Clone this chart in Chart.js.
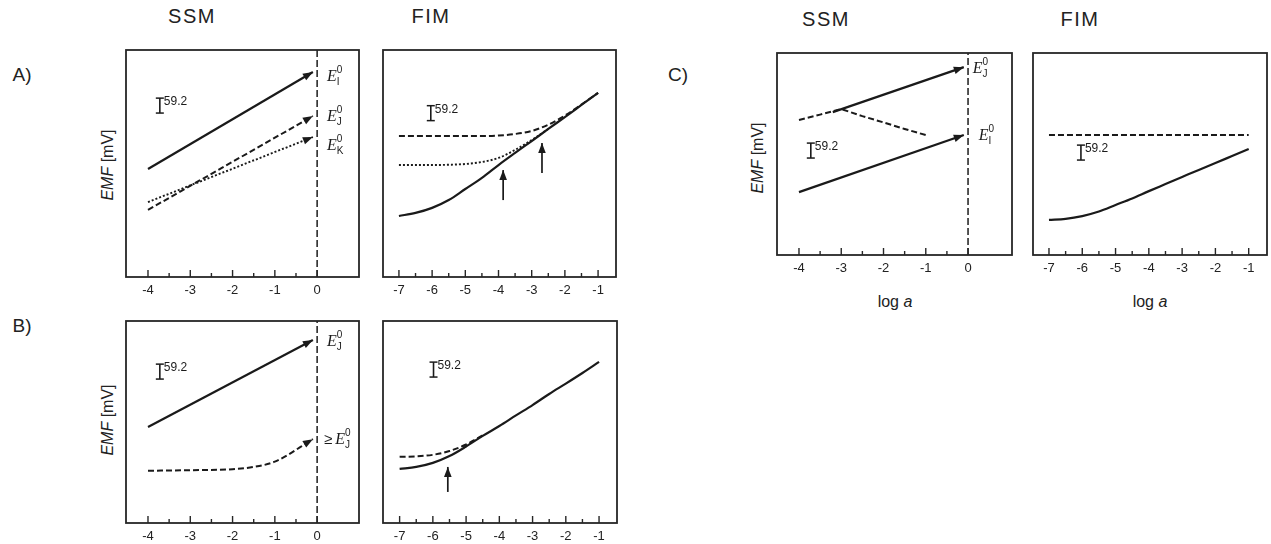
<!DOCTYPE html>
<html>
<head>
<meta charset="utf-8">
<title>EMF response of SSM and FIM</title>
<script src="https://cdn.jsdelivr.net/npm/chart.js@4.4.1/dist/chart.umd.min.js"></script>
<style>
  body { margin: 0; background: #fff; width: 1271px; height: 544px; position: relative; overflow: hidden;
         font-family: 'Liberation Sans', Arial, sans-serif; color: #222; }
  canvas { position: absolute; }
  .t { position: absolute; white-space: nowrap; transform: translate(-50%, -50%); }
  .title { font-size: 20px; letter-spacing: 1.5px; }
  .tag { font-size: 19px; }
  .ylab { font-size: 16px; transform: translate(-50%, -50%) rotate(-90deg); }
  .xlab { font-size: 16px; }
</style>
</head>
<body>
<div class="t title" style="left:192px;top:16px">SSM</div>
<div class="t title" style="left:431px;top:16px">FIM</div>
<div class="t title" style="left:826px;top:19px">SSM</div>
<div class="t title" style="left:1080px;top:19px">FIM</div>

<div class="t tag" style="left:22px;top:75px">A)</div>
<div class="t tag" style="left:22px;top:326px">B)</div>
<div class="t tag" style="left:678px;top:75px">C)</div>

<div class="t ylab" style="left:108px;top:165px"><i>EMF</i> [mV]</div>
<div class="t ylab" style="left:108px;top:420px"><i>EMF</i> [mV]</div>
<div class="t ylab" style="left:758px;top:158px"><i>EMF</i> [mV]</div>

<div class="t xlab" style="left:895px;top:302px">log <i>a</i></div>
<div class="t xlab" style="left:1150px;top:302px">log <i>a</i></div>

<script>
/* ===== EMF vs. log a, SSM / FIM panels ===== */

// tick labels
const ssmTicks = [-4, -3, -2, -1, 0];
const fimTicks = [-7, -6, -5, -4, -3, -2, -1];

// common log a grid for the FIM curves
const fimLogA = [-7, -6.5, -6, -5.5, -5, -4.5, -4, -3.5, -3, -2.5, -2, -1.5, -1];

// Nernstian scale bar, mV
const scaleBar = 59.2;

// A) SSM  (EMF in mV)
const aSsmLogA = [-4, -0.1];
const aSsmEI = [428, 813];
const aSsmEJ = [266, 638];
const aSsmEK = [297, 555];

// A) FIM
const aFimSolid = [242, 254, 274, 305, 349, 393, 444, 492, 539, 587, 634, 682, 730];
const aFimUpper = [559, 559, 559, 559, 559, 559, 561, 567, 579, 604, 640, 684, 730];
const aFimLower = [444, 444, 444, 445, 448, 456, 472, 504, 543, 587, null, null, null];
const aFimArrowX = [-3.86, -2.69];
const aFimArrowFrom = [305, 412];
const aFimArrowTo = [424, 531];

// B) SSM
const bSsmLogA = [-4, -0.1];
const bSsmEJ = [380, 725];
const bSsmBoundLogA = [-4, -3, -2, -1.5, -1, -0.1];
const bSsmBound = [207, 209, 213, 222, 243, 332];

// B) FIM
const bFimSolid = [214, 222, 238, 265, 303, 345, 384, 426, 467, 511, 552, 594, 638];
const bFimDashed = [262, 264, 270, 285, 311, 347, null, null, null, null, null, null, null];
const bFimArrowX = [-5.55];
const bFimArrowFrom = [123];
const bFimArrowTo = [222];

// C) SSM
const cSsmEJLogA = [-3.2, -0.1];
const cSsmEJ = [566, 744];
const cSsmDashLogA = [-4, -3.5, -3, -2.5, -2, -1.5, -1];
const cSsmDash = [535, 556, 578, 550, 525, 499, 475];
const cSsmEILogA = [-4, -0.1];
const cSsmEI = [249, 475];

// C) FIM
const cFimSolid = [139, 143, 154, 172, 198, 224, 253, 281, 309, 337, 364, 392, 420];
const cFimFlat = [475, 475, 475, 475, 475, 475, 475, 475, 475, 475, 475, 475, 475];

const ink = '#1a1a1a';
const frameColor = '#262626';

function pts(xs, ys) {
  const out = [];
  xs.forEach((x, i) => { if (ys[i] !== null) out.push({ x: x, y: ys[i] }); });
  return out;
}

function solid(xs, ys, extra) {
  return Object.assign({ data: pts(xs, ys), borderColor: ink, borderWidth: 2.2, pointRadius: 0, fill: false }, extra);
}
function dashed(xs, ys, extra) {
  return solid(xs, ys, Object.assign({ borderDash: [6, 3], borderWidth: 2 }, extra));
}
function dotted(xs, ys, extra) {
  return solid(xs, ys, Object.assign({ borderDash: [2, 2], borderWidth: 1.9 }, extra));
}
function zeroLine(yMax) {
  return { data: [{ x: 0, y: 0 }, { x: 0, y: yMax }], borderColor: '#2a2a2a', borderWidth: 1.6,
           borderDash: [7, 3], pointRadius: 0 };
}
function upArrow(x, y0, y1) {
  return { data: [{ x: x, y: y0 }, { x: x, y: y1 }], borderColor: ink, borderWidth: 1.7,
           pointRadius: 0, arrowHead: true };
}
function bar(x, y0) {
  return { data: [{ x: x, y: y0 }, { x: x, y: y0 + scaleBar }], borderColor: ink, borderWidth: 1.6,
           pointStyle: 'line', pointRadius: 4, pointBorderWidth: 1.5, pointBorderColor: ink,
           barLabel: String(scaleBar) };
}

function drawTag(ctx, x, y, tag) {
  let cx = x;
  ctx.fillStyle = ink;
  ctx.textAlign = 'left';
  ctx.textBaseline = 'middle';
  if (tag.pre) {
    ctx.font = '15px "Liberation Sans"';
    ctx.fillText(tag.pre, cx, y);
    cx += ctx.measureText(tag.pre).width + 3;
  }
  ctx.font = 'italic 16px "Liberation Serif"';
  ctx.fillText('E', cx, y);
  cx += ctx.measureText('E').width;
  ctx.font = '10px "Liberation Sans"';
  ctx.fillText(tag.sub, cx, y + 5);
  ctx.fillText('0', cx, y - 7);
}

// frame, inward ticks, arrow heads and the small labels
function decor(ticks) {
  return {
    id: 'decor',
    afterDatasetsDraw(chart) {
      const { ctx, chartArea: a } = chart;
      const x = chart.scales.x;
      ctx.save();
      ctx.setLineDash([]);
      ctx.strokeStyle = frameColor;
      ctx.lineWidth = 1.8;
      ctx.strokeRect(a.left, a.top, a.right - a.left, a.bottom - a.top);

      const tick = (v, len) => {
        const px = x.getPixelForValue(v);
        ctx.beginPath();
        ctx.moveTo(px, a.bottom);
        ctx.lineTo(px, a.bottom - len);
        ctx.stroke();
      };
      ctx.lineWidth = 1.4;
      ticks.forEach((v, i) => {
        tick(v, 7);
        if (i < ticks.length - 1) tick((v + ticks[i + 1]) / 2, 4);
      });

      chart.data.datasets.forEach((ds, i) => {
        const p = chart.getDatasetMeta(i).data;
        if (!p.length) return;
        const end = p[p.length - 1];
        if (ds.arrowHead) {
          const prev = p[p.length - 2];
          const ang = Math.atan2(end.y - prev.y, end.x - prev.x);
          const L = 10, W = 3.8;
          const bx = end.x - L * Math.cos(ang), by = end.y - L * Math.sin(ang);
          ctx.fillStyle = ink;
          ctx.beginPath();
          ctx.moveTo(end.x, end.y);
          ctx.lineTo(bx - W * Math.sin(ang), by + W * Math.cos(ang));
          ctx.lineTo(bx + W * Math.sin(ang), by - W * Math.cos(ang));
          ctx.closePath();
          ctx.fill();
        }
        if (ds.tag) drawTag(ctx, end.x + ds.tag.dx, end.y + ds.tag.dy, ds.tag);
        if (ds.barLabel) {
          ctx.fillStyle = ink;
          ctx.font = '12px "Liberation Sans"';
          ctx.textAlign = 'left';
          ctx.textBaseline = 'middle';
          ctx.fillText(ds.barLabel, end.x + 4, end.y + 4);
        }
      });
      ctx.restore();
    }
  };
}

function panel(box, xRange, ticks, yMax, datasets) {
  const pad = 6, axisH = 26;
  const c = document.createElement('canvas');
  c.width = box.r - box.l + 2 * pad;
  c.height = box.b - box.t + pad + axisH;
  c.style.left = (box.l - pad) + 'px';
  c.style.top = (box.t - pad) + 'px';
  document.body.appendChild(c);

  return new Chart(c, {
    type: 'line',
    data: { datasets: datasets },
    options: {
      responsive: false,
      animation: false,
      devicePixelRatio: 1,
      events: [],
      layout: { padding: { left: pad, right: pad, top: pad, bottom: 0 } },
      plugins: { legend: { display: false }, tooltip: { enabled: false } },
      scales: {
        x: {
          type: 'linear',
          min: xRange[0],
          max: xRange[1],
          afterBuildTicks: s => { s.ticks = ticks.map(v => ({ value: v })); },
          afterFit: s => { s.height = axisH; },
          grid: { display: false, drawTicks: false },
          border: { display: false },
          ticks: {
            autoSkip: false, maxRotation: 0, padding: 6, color: '#222',
            font: { family: 'Liberation Sans', size: 13 },
            callback: v => String(v)
          }
        },
        y: { type: 'linear', display: false, min: 0, max: yMax }
      }
    },
    plugins: [decor(ticks)]
  });
}

// A) SSM
panel({ l: 126, t: 50, r: 359, b: 277 }, [-4.52, 0.99], ssmTicks, 900, [
  zeroLine(900),
  solid(aSsmLogA, aSsmEI, { arrowHead: true, tag: { sub: 'I', dx: 14, dy: 5 } }),
  dashed(aSsmLogA, aSsmEJ, { arrowHead: true, tag: { sub: 'J', dx: 14, dy: 1 } }),
  dotted(aSsmLogA, aSsmEK, { arrowHead: true, tag: { sub: 'K', dx: 14, dy: 9 } }),
  bar(-3.72, 650)
]);

// A) FIM
panel({ l: 383, t: 50, r: 616, b: 277 }, [-7.48, -0.46], fimTicks, 900, [
  dashed(fimLogA, aFimUpper, { cubicInterpolationMode: 'monotone' }),
  dotted(fimLogA, aFimLower, { cubicInterpolationMode: 'monotone' }),
  solid(fimLogA, aFimSolid, { cubicInterpolationMode: 'monotone' }),
  upArrow(aFimArrowX[0], aFimArrowFrom[0], aFimArrowTo[0]),
  upArrow(aFimArrowX[1], aFimArrowFrom[1], aFimArrowTo[1]),
  bar(-6.04, 620)
]);

// B) SSM
panel({ l: 126, t: 321, r: 359, b: 523 }, [-4.52, 0.99], ssmTicks, 800, [
  zeroLine(800),
  solid(bSsmLogA, bSsmEJ, { arrowHead: true, tag: { sub: 'J', dx: 14, dy: 2 } }),
  dashed(bSsmBoundLogA, bSsmBound, { arrowHead: true, cubicInterpolationMode: 'monotone',
                                      tag: { pre: '\u2265', sub: 'J', dx: 11, dy: 1 } }),
  bar(-3.72, 570)
]);

// B) FIM
panel({ l: 383, t: 321, r: 617, b: 523 }, [-7.5, -0.46], fimTicks, 800, [
  dashed(fimLogA, bFimDashed, { cubicInterpolationMode: 'monotone' }),
  solid(fimLogA, bFimSolid, { cubicInterpolationMode: 'monotone' }),
  upArrow(bFimArrowX[0], bFimArrowFrom[0], bFimArrowTo[0]),
  bar(-5.98, 578)
]);

// C) SSM
panel({ l: 777, t: 53, r: 1012, b: 255 }, [-4.52, 1.04], ssmTicks, 800, [
  zeroLine(800),
  dashed(cSsmDashLogA, cSsmDash),
  solid(cSsmEJLogA, cSsmEJ, { arrowHead: true, tag: { sub: 'J', dx: 9, dy: 2 } }),
  solid(cSsmEILogA, cSsmEI, { arrowHead: true, tag: { sub: 'I', dx: 15, dy: 1 } }),
  bar(-3.72, 384)
]);

// C) FIM
panel({ l: 1033, t: 53, r: 1267, b: 255 }, [-7.48, -0.45], fimTicks, 800, [
  dashed(fimLogA, cFimFlat),
  solid(fimLogA, cFimSolid, { cubicInterpolationMode: 'monotone' }),
  bar(-6.04, 376)
]);
</script>
</body>
</html>
